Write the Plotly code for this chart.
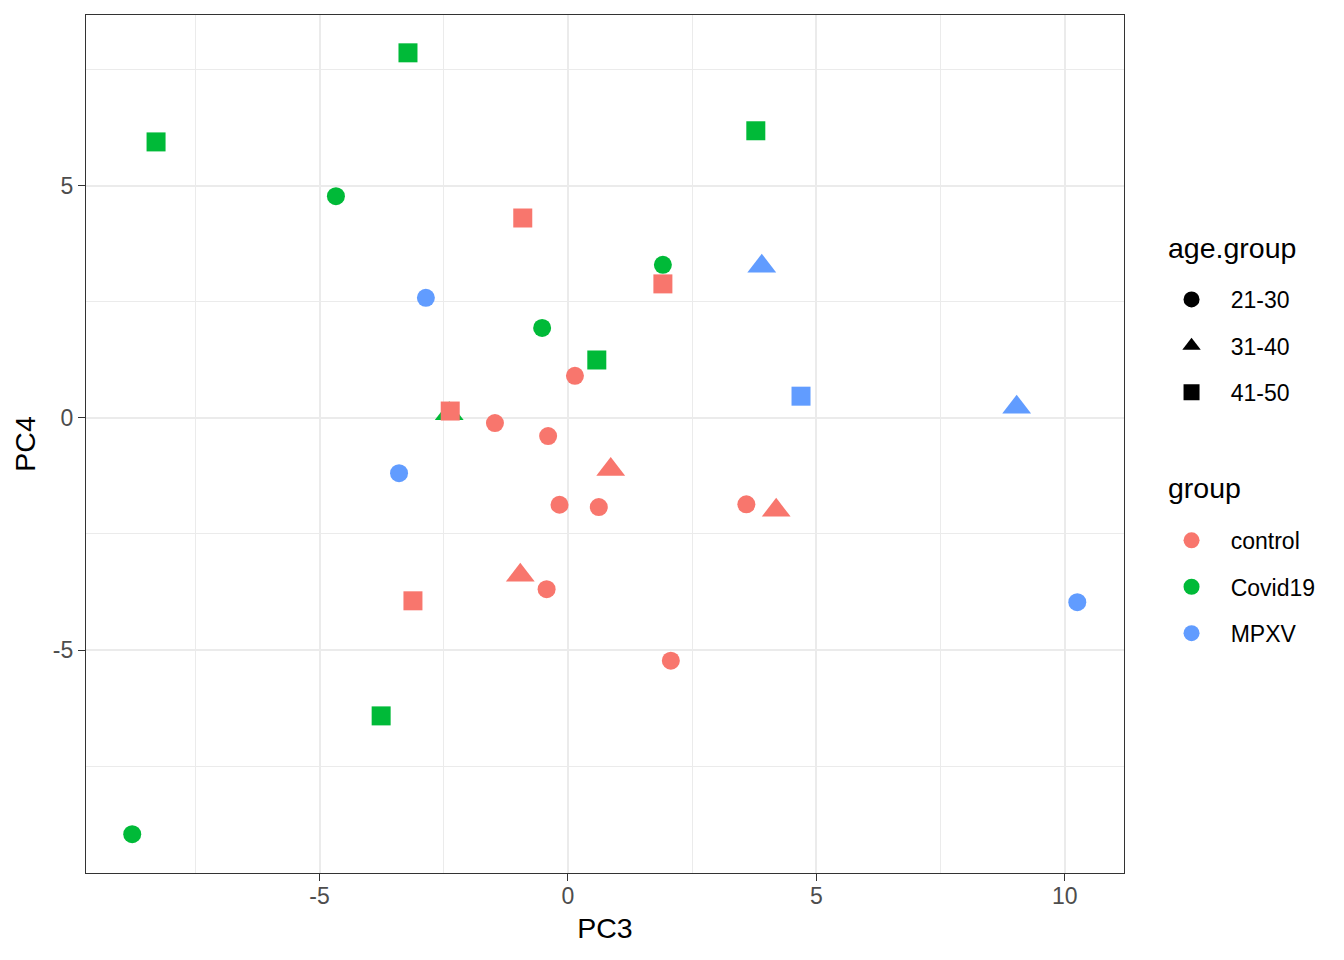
import plotly.graph_objects as go

# ---- data ----
pc3 = [-3.22, -8.29, 3.78, 0.58, -3.76,
       -4.67, 1.91, -0.52, -8.77,
       -2.39,
       -2.86, -3.40, 10.25,
       3.90, 9.03,
       4.69,
       -0.91, 1.91, -2.37, -3.12,
       0.14, -1.47, -0.40, -0.17, 0.62, 3.59, -0.43, 2.07,
       0.86, 4.19, -0.96]
pc4 = [7.87, 5.95, 6.19, 1.25, -6.42,
       4.78, 3.30, 1.94, -8.97,
       0.09,
       2.59, -1.19, -3.97,
       3.27, 0.23,
       0.47,
       4.31, 2.89, 0.15, -3.94,
       0.91, -0.11, -0.39, -1.87, -1.92, -1.86, -3.69, -5.23,
       -1.11, -1.99, -3.39]
group = (["Covid19"] * 10 + ["MPXV"] * 6 + ["control"] * 15)
age_group = (["41-50"] * 5 + ["21-30"] * 4 + ["31-40"] * 1 +
             ["21-30"] * 3 + ["31-40"] * 2 + ["41-50"] * 1 +
             ["41-50"] * 4 + ["21-30"] * 8 + ["31-40"] * 3)

group_levels = ["control", "Covid19", "MPXV"]
age_levels = ["21-30", "31-40", "41-50"]
xticks = [-5, 0, 5, 10]
yticks = [-5, 0, 5]

colors = {"control": "#F8766D", "Covid19": "#00BA38", "MPXV": "#619CFF"}
symbols = {"21-30": "circle", "31-40": "triangle-up", "41-50": "square"}
sizes = {"21-30": 18, "31-40": 25, "41-50": 19}

FONT = "Liberation Sans, Arial, sans-serif"
PAD = "\u00a0\u00a0\u00a0"

fig = go.Figure()

# data points, drawn in data order (Covid19, MPXV, control)
for g in ["Covid19", "MPXV", "control"]:
    for a in age_levels:
        xs = [x for x, gg, aa in zip(pc3, group, age_group) if gg == g and aa == a]
        ys = [y for y, gg, aa in zip(pc4, group, age_group) if gg == g and aa == a]
        if not xs:
            continue
        fig.add_trace(go.Scatter(
            x=xs, y=ys, mode="markers", showlegend=False,
            marker=dict(color=colors[g], symbol=symbols[a], size=sizes[a],
                        line=dict(width=0)),
            hoverinfo="x+y+name", name=f"{g} {a}"))

# legend entries: age.group
for a in age_levels:
    fig.add_trace(go.Scatter(
        x=[None], y=[None], mode="markers", name=PAD + a, legend="legend",
        legendgroup="age" + a,
        marker=dict(color="black", symbol=symbols[a], size=16)))

# legend entries: group
for g in group_levels:
    fig.add_trace(go.Scatter(
        x=[None], y=[None], mode="markers", name=PAD + g, legend="legend2",
        legendgroup="grp" + g,
        marker=dict(color=colors[g], symbol="circle", size=16)))

axis_common = dict(
    showgrid=True, gridcolor="#EBEBEB", gridwidth=2,
    zeroline=False, showline=True, linecolor="#333333", linewidth=1.3,
    mirror=True, ticks="outside", ticklen=7, tickwidth=1.3, tickcolor="#333333",
    tickfont=dict(family=FONT, size=23, color="#4D4D4D"),
    minor=dict(dtick=2.5, showgrid=True, gridcolor="#EBEBEB", gridwidth=1, ticks=""),
)

legend_common = dict(
    font=dict(size=23, family=FONT, color="black"),
    xanchor="left", yanchor="top",
    traceorder="grouped", tracegroupgap=13.5, itemsizing="trace",
    bgcolor="rgba(0,0,0,0)",
)

fig.update_layout(
    width=1344, height=960,
    paper_bgcolor="white", plot_bgcolor="white",
    margin=dict(l=78, r=228, t=7, b=95),
    font=dict(family=FONT, color="black"),
    xaxis=dict(range=[-9.70, 11.19], tickvals=xticks, ticktext=[str(v) for v in xticks],
               ticklabelstandoff=-5,
               title=dict(text="PC3", font=dict(size=28.5, family=FONT, color="black"), standoff=10),
               **axis_common),
    yaxis=dict(range=[-9.806, 8.685], tickvals=yticks, ticktext=[str(v) for v in yticks],
               title=dict(text="PC4", font=dict(size=28.5, family=FONT, color="black"), standoff=8),
               **axis_common),
    legend=dict(x=1.0458, y=0.6935, **legend_common),
    legend2=dict(x=1.0458, y=0.4127, **legend_common),
    annotations=[
        dict(text="age.group", xref="paper", yref="paper", x=1.0409, y=0.728,
             xanchor="left", yanchor="middle", showarrow=False,
             font=dict(size=28.5, family=FONT, color="black")),
        dict(text="group", xref="paper", yref="paper", x=1.0409, y=0.4488,
             xanchor="left", yanchor="middle", showarrow=False,
             font=dict(size=28.5, family=FONT, color="black")),
    ],
)

fig.write_html("out.html")
